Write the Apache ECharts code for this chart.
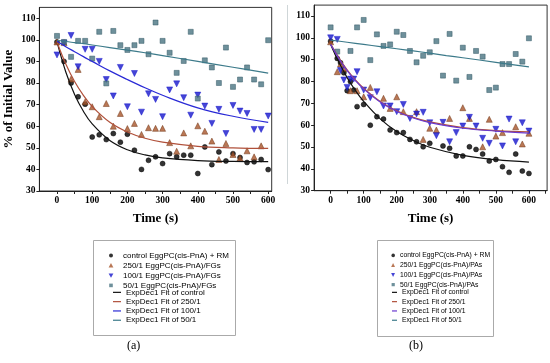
<!DOCTYPE html>
<html><head><meta charset="utf-8">
<script src="https://cdn.jsdelivr.net/npm/echarts@6/dist/echarts.min.js"></script>
<style>html,body{margin:0;padding:0;background:#fff}#c{width:550px;height:363px}</style>
</head><body><div id="c"></div>
<script>
// ---------- Panel (a) data ----------
const timeA = [0,20,40,60,80,100,120,140,160,180,200,220,240,260,280,300,320,340,360,380,400,420,440,460,480,500,520,540,560,580,600];
const ctrlA = [99,90,80,73.6,70.2,55,56,53.8,56.6,52.6,56.3,48.9,40,44.2,45.8,42.7,47.3,45.8,46.6,46.6,38.1,50.4,42.2,48.1,43.9,47.3,45.5,43.2,43.5,44.6,39.9];
const r250A = [99,98.7,81.8,86.3,71.3,69,64.4,70.5,60,65.9,58.9,61.3,56.2,59.3,59,59,52.4,48.4,56.9,50.9,60.2,57.7,53.1,44.6,52,46.9,45.3,48.6,45.8,50.9,null];
const r100A = [93,98.5,102,87.5,95.6,95.6,90,81.6,74,87.2,69,84.4,66.5,75,72.4,64.4,76.8,79.6,73.2,65.1,74.4,69.3,61.3,67.8,56.6,69.6,67,65.9,58.5,58.5,64.7];
const r50A  = [101.8,99,92.1,99.5,99.5,91.3,103.7,79.8,104.1,97.5,95.3,97.5,99.5,93.3,108,99.5,94,84.7,90.2,103.7,72.8,90.5,87.2,80,96.4,78.2,81.6,87.2,81.6,79.4,99.8];
// fitted curves
const fitX = [0,25,50,75,100,150,200,250,300,400,500,600];
const fitCtrlA = [99,85.1,74.7,66.9,61.1,53.4,49.1,46.7,45.3,44.1,43.7,43.6];
const fit250A  = [99,88.8,80.7,74.3,69.1,61.8,57.3,54.4,52.6,50.7,50,49.7];
const fit100A  = [99.3,96.8,94.5,92.2,90,85.6,81.6,77.8,74.3,68.5,64.6,61.8];
const fit50A   = [99.8,99.2,98.7,98.2,97.6,96.4,95.2,94,92.7,90,87.3,84.6];

// ---------- Panel (b) data ----------
const timeB = [0,20,30,40,50,60,70,80,100,120,140,160,180,200,220,240,260,280,300,320,340,360,380,400,420,440,460,480,500,520,540,560,580,600];
const ctrlB = [98.5,90.6,88.6,84,75.8,80,76.1,68.5,69.5,60,63.9,62.8,57.8,56.6,56.6,53.5,52.4,50.1,51.7,null,50.5,49.4,45.9,45.9,50.1,48.9,46.8,43.6,44.3,41,38.4,46.8,39,37.9];
const r250B = [98.2,84.5,88,86,null,75.8,null,75.8,73,77.3,null,72.3,67.7,73,66.2,null,66.2,53.5,58.6,57.8,null,63.1,null,68,63.1,null,50.1,62.7,55,56.6,null,59.3,51.4,56.3];
const r100B = [100,99.3,85,80.7,77.3,81.1,81.1,84.5,76.1,72.6,75.3,68.8,68.8,66.2,69.5,63.1,65.1,65.9,61.1,55.2,61.3,52.4,56.6,59.6,63.6,59.6,54,51.7,58.1,50.5,62.8,52.4,61.1,57.3];
const r50B  = [104.8,93.7,null,null,null,94,null,104.8,108.2,89.8,101.6,96.3,97,102.8,101.3,94,88.8,91.8,93.4,98.5,82.7,101.8,80.4,95.5,82.1,94,91.4,76.1,77.2,88,88,92.6,89.1,99.8];
const fitXB = [0,25,50,75,100,150,200,250,300,400,500,600];
const fitCtrlB = [97,88.8,81.8,75.9,70.9,62.9,57.1,53,49.9,46.2,44.2,43.1];
const fit250B  = [97.3,90.8,85.3,80.7,76.9,70.9,66.6,63.6,61.5,58.9,57.5,56.9];
const fit100B  = [97,90.5,85,80.4,76.6,70.6,66.3,63.3,61.2,58.6,57.3,56.4];
const fitX50B = [0,50,100,150,200,250,300,350,400,500,600];
const fit50B   = [99,98,97,96,95,94,93,91.9,90.9,88.8,86.7];

const namesA = ['control EggPC(cis-PnA) + RM','250/1 EggPC(cis-PnA)/FGs','100/1 EggPC(cis-PnA)/FGs','50/1 EggPC(cis-PnA)/FGs'];
const namesB = ['control EggPC(cis-PnA) + RM ','250/1 EggPC(cis-PnA)/PAs','100/1 EggPC(cis-PnA)/PAs','50/1 EggPC(cis-PnA)/PAs'];
const fitNames = ['ExpDec1 Fit of control','ExpDec1 Fit of 250/1','ExpDec1 Fit of 100/1','ExpDec1 Fit of 50/1'];
const fitNamesB = fitNames.map(n => n + ' ');

const COL = {ctrl:'#000000', r250:'#a8552a', r100:'#1616cc', r50:'#4a7482'};
const LCOL = {ctrl:'#111111', r250:'#b0503a', r100:'#2a2ad6', r50:'#3c7a8a'};
const pair = (xs, ys) => xs.map((x,i) => [x, ys[i]]);

function scatter(name, xs, ys, idx, sym, col, rot, size, border){
  return {type:'scatter', name, xAxisIndex:idx, yAxisIndex:idx, data: pair(xs,ys).filter(p=>p[1]!=null),
    symbol:sym, symbolSize:size, symbolRotate:rot||0,
    itemStyle:{color:col, borderColor:border||col, borderWidth:0.6}, z:3};
}
function fit(name, xs, ys, idx, col){
  return {type:'line', name, xAxisIndex:idx, yAxisIndex:idx, data: pair(xs,ys), smooth:0.4,
    symbol:'none', lineStyle:{color:col, width:1.2}, itemStyle:{color:col}, z:4};
}

const axisFont = {fontFamily:'Liberation Serif', fontWeight:'bold', fontSize:9.5, color:'#000'};
const titleFont = {fontFamily:'Liberation Serif', fontWeight:'bold', fontSize:13, color:'#000'};
function xAx(idx, max){
  return {type:'value', gridIndex:idx, min:-50, max:max, interval:50,
    axisLine:{show:true, onZero:false, lineStyle:{color:'#222', width:1}},
    axisTick:{show:true, inside:false, length:3, lineStyle:{color:'#222'}},
    splitLine:{show:false},
    axisLabel:Object.assign({margin:5, showMinLabel:false, showMaxLabel:false,
      formatter: v => (v % 100 === 0 && v >= 0) ? String(v) : ''}, axisFont),
    name:'Time (s)', nameLocation:'middle', nameGap:21, nameTextStyle:titleFont};
}
function yAx(idx, withName){
  const o = {type:'value', gridIndex:idx, min:30, max:115, interval:10,
    axisLine:{show:true, onZero:false, lineStyle:{color:'#222', width:1}},
    axisTick:{show:true, inside:false, length:3, lineStyle:{color:'#222'}},
    splitLine:{show:false},
    axisLabel:Object.assign({margin:4, showMaxLabel:false}, axisFont)};
  if (withName){
    o.name = '% of Initial Value'; o.nameLocation = 'middle'; o.nameGap = 24;
    o.nameTextStyle = titleFont;
  }
  return o;
}

const legText = (fs) => ({fontFamily:'Liberation Sans', fontSize:fs, color:'#000', lineHeight:9.3});
// legend icons drawn inside a padded box (the outer moveTo points only pad the box)
const symItemsA = (names) => [
  {name:names[0], icon:'path://M0,0 M12,10 M7,5 A2,2 0 1 1 3,5 A2,2 0 1 1 7,5 Z'},
  {name:names[1], icon:'path://M0,0 M12,10 M5,2.6 L7.4,7 L2.6,7 Z'},
  {name:names[2], icon:'path://M0,0 M12,10 M2.6,3 L7.4,3 L5,7.4 Z'},
  {name:names[3], icon:'path://M0,0 M12,10 M3.2,3.2 L6.8,3.2 L6.8,6.8 L3.2,6.8 Z'}
];
const symItemsB = (names) => [
  {name:names[0], icon:'path://M0,0 M5,10 M5,5 A1.8,1.8 0 1 1 1.4,5 A1.8,1.8 0 1 1 5,5 Z'},
  {name:names[1], icon:'path://M0,0 M5,10 M3.2,2.8 L5.2,6.8 L1.2,6.8 Z'},
  {name:names[2], icon:'path://M0,0 M5,10 M1.2,3.2 L5.2,3.2 L3.2,7.2 Z'},
  {name:names[3], icon:'path://M0,0 M5,10 M1.6,3.4 L4.8,3.4 L4.8,6.6 L1.6,6.6 Z'}
];
const lineItems = (names) => names.map(n => ({name:n, icon:'rect'}));

const chart = echarts.init(document.getElementById('c'), null, {renderer:'canvas'});
chart.setOption({
  animation:false,
  backgroundColor:'#fff',
  grid:[
    {left:39.4, top:7.4, width:232.3, height:183.6, show:true, borderColor:'#333', borderWidth:1, backgroundColor:'transparent'},
    {left:314.1, top:5.1, width:233, height:185.6, show:true, borderColor:'#333', borderWidth:1, backgroundColor:'transparent'}
  ],
  xAxis:[xAx(0, 610), xAx(1, 655)],
  yAxis:[yAx(0, true), yAx(1, false)],
  legend:[
    {orient:'vertical', left:106, top:250.4, itemWidth:12, itemHeight:10, itemGap:0, padding:0, symbolRotate:0,
     textStyle:legText(8), data:symItemsA(namesA), itemStyle:{borderWidth:0}},
    {orient:'vertical', left:113, top:287.7, itemWidth:8, itemHeight:1.2, itemGap:0, padding:0,
     textStyle:legText(8), data:lineItems(fitNames)},
    {orient:'vertical', left:390, top:250.4, itemWidth:5, itemHeight:10, itemGap:0, padding:0, symbolRotate:0,
     textStyle:legText(6.8), data:symItemsB(namesB), itemStyle:{borderWidth:0}},
    {orient:'vertical', left:392, top:287.7, itemWidth:5, itemHeight:1.2, itemGap:0, padding:0,
     textStyle:legText(6.8), data:lineItems(fitNamesB)}
  ],
  graphic:[
    {type:'rect', shape:{x:93.5, y:240.5, width:142, height:95}, style:{fill:'none', stroke:'#aaa', lineWidth:1}},
    {type:'rect', shape:{x:377.5, y:240.5, width:116, height:96}, style:{fill:'none', stroke:'#aaa', lineWidth:1}},
    {type:'line', shape:{x1:287.5, y1:5, x2:287.5, y2:184}, style:{stroke:'#cfd6d8', lineWidth:1}},
    {type:'text', left:127, top:340, style:{text:'(a)', fontFamily:'Liberation Serif', fontSize:12, fill:'#000'}},
    {type:'text', left:409, top:340, style:{text:'(b)', fontFamily:'Liberation Serif', fontSize:12, fill:'#000'}}
  ],
  series:[
    scatter(namesA[0], timeA, ctrlA, 0, 'circle', COL.ctrl, 0, 5),
    scatter(namesA[1], timeA, r250A, 0, 'triangle', COL.r250, 0, 6, '#6e3212'),
    scatter(namesA[2], timeA, r100A, 0, 'triangle', COL.r100, 180, 6),
    scatter(namesA[3], timeA, r50A, 0, 'rect', COL.r50, 0, 5, '#2f5560'),
    fit(fitNames[0], fitX, fitCtrlA, 0, LCOL.ctrl),
    fit(fitNames[1], fitX, fit250A, 0, LCOL.r250),
    fit(fitNames[2], fitX, fit100A, 0, LCOL.r100),
    fit(fitNames[3], fitX, fit50A, 0, LCOL.r50),
    scatter(namesB[0], timeB, ctrlB, 1, 'circle', COL.ctrl, 0, 5),
    scatter(namesB[1], timeB, r250B, 1, 'triangle', COL.r250, 0, 6, '#6e3212'),
    scatter(namesB[2], timeB, r100B, 1, 'triangle', COL.r100, 180, 6),
    scatter(namesB[3], timeB, r50B, 1, 'rect', COL.r50, 0, 5, '#2f5560'),
    fit(fitNamesB[0], fitXB, fitCtrlB, 1, LCOL.ctrl),
    fit(fitNamesB[1], fitXB, fit250B, 1, LCOL.r250),
    fit(fitNamesB[2], fitXB, fit100B, 1, '#6a3ad0'),
    fit(fitNamesB[3], fitX50B, fit50B, 1, LCOL.r50)
  ]
});
</script></body></html>
